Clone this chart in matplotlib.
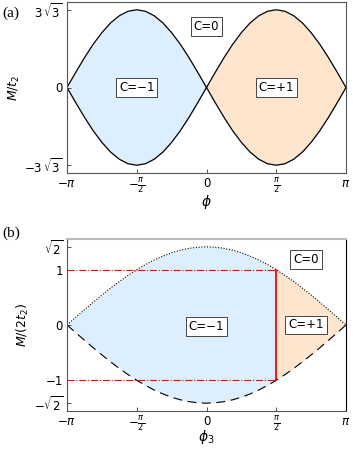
import numpy as np
import matplotlib.pyplot as plt

# (a) Haldane-Phasendiagramm: Betrag der Grenzkurve über einen Lappen (phi-Schritt pi/16)
phi_a = np.linspace(-np.pi, 0, 17)
lobe_a = [0, 1.01, 1.99, 2.89, 3.67, 4.32, 4.80, 5.10, 5.20,
          5.10, 4.80, 4.32, 3.67, 2.89, 1.99, 1.01, 0]

# (b) Grenzkurve M/(2 t2) über phi_3 (Schritt pi/16)
phi_b = np.linspace(-np.pi, np.pi, 33)
upper_b = [0, 0.139, 0.276, 0.411, 0.541, 0.667, 0.786, 0.897, 1.0,
           1.093, 1.176, 1.247, 1.307, 1.353, 1.387, 1.407, 1.414,
           1.407, 1.387, 1.353, 1.307, 1.247, 1.176, 1.093, 1.0,
           0.897, 0.786, 0.667, 0.541, 0.411, 0.276, 0.139, 0]
phi_split = np.pi / 2
m_line = 1.0

blue = "#DDEEFD"
orange = "#FEE6CE"

xticks = [-np.pi, -np.pi / 2, 0, np.pi / 2, np.pi]
xlabels = [r"$-\pi$", r"$-\frac{\pi}{2}$", "0", r"$\frac{\pi}{2}$", r"$\pi$"]

fig = plt.figure(figsize=(3.53, 4.53), dpi=100)
ax1 = fig.add_axes([67 / 353, 1 - 173 / 453, 279 / 353, 171 / 453])
ax2 = fig.add_axes([67 / 353, 1 - 411 / 453, 279 / 353, 172 / 453])

lobe = np.array(lobe_a)
# linker Lappen (C=-1), rechter Lappen (C=+1)
ax1.fill_between(phi_a, -lobe, lobe, color=blue, lw=0)
ax1.fill_between(phi_a + np.pi, -lobe, lobe, color=orange, lw=0)
for sgn in (1, -1):
    ax1.plot(phi_a, sgn * lobe, color="black", lw=0.9)
    ax1.plot(phi_a + np.pi, sgn * lobe, color="black", lw=0.9)

ax1.set_xlim(-np.pi, np.pi)
ax1.set_ylim(-5.72, 5.72)
ax1.set_yticks([-3 * np.sqrt(3), 0, 3 * np.sqrt(3)])
ax1.set_yticklabels([r"$-3\,\sqrt{3}$", "0", r"$3\,\sqrt{3}$"])
ax1.set_xticks(xticks)
ax1.set_xticklabels(xlabels)
ax1.set_ylabel(r"$M/t_2$", fontsize=9, labelpad=2)
ax1.set_xlabel(r"$\phi$", fontsize=10)
ax1.xaxis.set_label_coords(0.5, -0.117)

box = dict(boxstyle="square,pad=0.25", fc="white", ec="#444444", lw=0.7)
ax1.text(-np.pi / 2, 0, "C=\u22121", ha="center", va="center", fontsize=8.5, bbox=box)
ax1.text(np.pi / 2, 0, "C=+1", ha="center", va="center", fontsize=8.5, bbox=box)
ax1.text(0, 4.06, "C=0", ha="center", va="center", fontsize=8.5, bbox=box)

up = np.array(upper_b)
left = phi_b <= phi_split + 1e-9
right = phi_b >= phi_split - 1e-9
ax2.fill_between(phi_b[left], -up[left], up[left], color=blue, lw=0)
ax2.fill_between(phi_b[right], -up[right], up[right], color=orange, lw=0)
ax2.plot(phi_b, up, color="black", lw=0.8, ls=(0, (1, 1.5)))
ax2.plot(phi_b, -up, color="black", lw=0.8, ls=(0, (8, 5)))
ax2.plot([-np.pi, phi_split], [m_line, m_line], color="red", lw=0.8, ls="-.")
ax2.plot([-np.pi, phi_split], [-m_line, -m_line], color="red", lw=0.8, ls="-.")
ax2.plot([phi_split, phi_split], [-m_line, m_line], color="red", lw=1.3)

ax2.set_xlim(-np.pi, np.pi)
ax2.set_ylim(-1.556, 1.556)
ax2.set_yticks([-np.sqrt(2), -1, 0, 1, np.sqrt(2)])
ax2.set_yticklabels([r"$-\sqrt{2}$", "\u22121", "0", "1", r"$\sqrt{2}$"])
ax2.set_xticks(xticks)
ax2.set_xticklabels(xlabels)
ax2.set_ylabel(r"$M/(2t_2)$", fontsize=9, labelpad=2)
ax2.set_xlabel(r"$\phi_3$", fontsize=10)
ax2.xaxis.set_label_coords(0.5, -0.099)

ax2.text(0, -0.03, "C=\u22121", ha="center", va="center", fontsize=8.5, bbox=box)
ax2.text(2.24, 0, "C=+1", ha="center", va="center", fontsize=8.5, bbox=box)
ax2.text(2.24, 1.19, "C=0", ha="center", va="center", fontsize=8.5, bbox=box)

for ax in (ax1, ax2):
    ax.tick_params(direction="in", length=3, width=0.6, labelsize=8.5, pad=3,
                   colors="#333333", labelcolor="black")
    for s in ax.spines.values():
        s.set_linewidth(0.8)
        s.set_color("#555555")
ax2.spines["top"].set_color("#bbbbbb")
ax2.spines["top"].set_linewidth(1.5)
ax2.spines["right"].set_color("black")

fig.text(2 / 353, 1 - 13 / 453, "(a)", family="Liberation Serif", fontsize=11, va="center")
fig.text(2 / 353, 1 - 233 / 453, "(b)", family="Liberation Serif", fontsize=11, va="center")

fig.savefig("out.png", dpi=100)
